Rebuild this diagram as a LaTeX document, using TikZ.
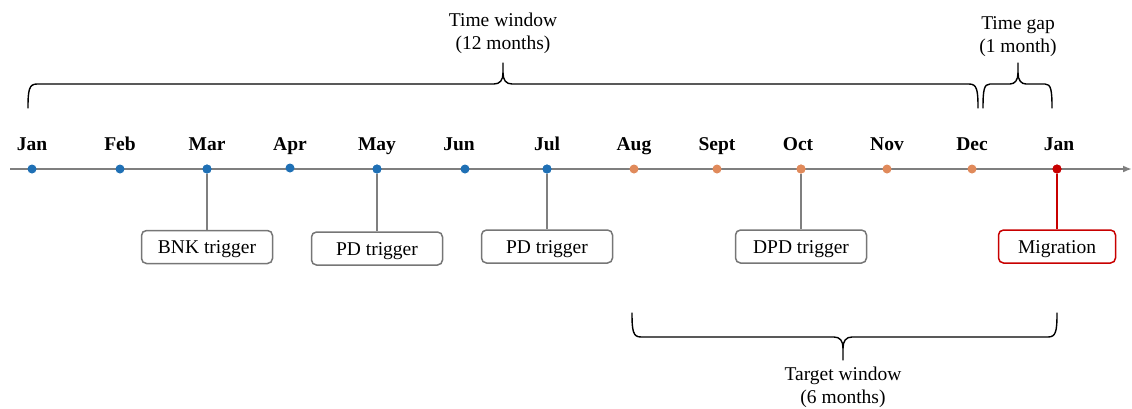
\documentclass[tikz,border=0pt]{standalone}
\usepackage{fontspec}
\setmainfont{Liberation Serif}
\usetikzlibrary{arrows.meta}

\definecolor{axisgrey}{HTML}{7F7F7F}
\definecolor{boxgrey}{HTML}{767676}
\definecolor{dotblue}{HTML}{1F70B5}
\definecolor{dotorange}{HTML}{E08A5B}
\definecolor{migred}{HTML}{C80000}

\begin{document}
\begin{tikzpicture}[x=1pt,y=-1pt,
  txt/.style={font=\rmfamily\fontsize{19.5}{23}\selectfont},
  month/.style={font=\rmfamily\fontsize{19.5}{23}\selectfont\bfseries, anchor=base},
  monthdot/.style={circle, inner sep=0pt, minimum size=9pt, fill=#1},
  evt/.style={draw=#1, line width=1.5pt, rounded corners=5pt, fill=white,
    minimum width=131pt, minimum height=33pt, inner sep=0pt,
    text height=13pt, text depth=0pt,
    font=\rmfamily\fontsize{19.5}{23}\selectfont},
  stem/.style={draw=#1, line width=1.8pt},
  bracepen/.style={draw=black, line width=1.4pt, line cap=round, line join=round},
  axis/.style={draw=axisgrey, line width=2.4pt, -{Latex[length=9pt,width=7pt]}}
]
\useasboundingbox (0,0) rectangle (1132,408);

% time axis
\coordinate (axstart) at (10,169);
\coordinate (axend) at (1132,169);
\draw[axis] (axstart) -- (axend);

% event boxes
\node[evt=boxgrey] (bnk) at (207,247) {BNK trigger};
\node[evt=boxgrey] (pda) at (377,248.5) {PD trigger};
\node[evt=boxgrey] (pdb) at (547,246.5) {PD trigger};
\node[evt=boxgrey] (dpd) at (801,246.5) {DPD trigger};
\node[evt=migred, minimum width=117pt] (mig) at (1057,246.5) {Migration};

% month markers
\node[monthdot=dotblue] (m1) at (32,169) {};
\node[monthdot=dotblue] (m2) at (120,169) {};
\node[monthdot=dotblue] (m3) at (207,169) {};
\node[monthdot=dotblue] (m4) at (290,168) {};
\node[monthdot=dotblue] (m5) at (377,169) {};
\node[monthdot=dotblue] (m6) at (465,169) {};
\node[monthdot=dotblue] (m7) at (547,169) {};
\node[monthdot=dotorange] (m8) at (634,169) {};
\node[monthdot=dotorange] (m9) at (717,169) {};
\node[monthdot=dotorange] (m10) at (801,169) {};
\node[monthdot=dotorange] (m11) at (887,169) {};
\node[monthdot=dotorange] (m12) at (972,169) {};
\node[monthdot=migred] (m13) at (1057,169) {};

% stems from months down to their events
\draw[stem=axisgrey] (m3) -- (bnk.north);
\draw[stem=axisgrey] (m5) -- (pda.north);
\draw[stem=axisgrey] (m7) -- (pdb.north);
\draw[stem=axisgrey] (m10) -- (dpd.north);
\draw[stem=migred] (m13) -- (mig.north);

% month labels
\node[month] (l1) at (32,150) {Jan};
\node[month] (l2) at (120,150) {Feb};
\node[month] (l3) at (207,150) {Mar};
\node[month] (l4) at (290,150) {Apr};
\node[month] (l5) at (377,150) {May};
\node[month] (l6) at (459,150) {Jun};
\node[month] (l7) at (547,150) {Jul};
\node[month] (l8) at (634,150) {Aug};
\node[month] (l9) at (717,150) {Sept};
\node[month] (l10) at (798,150) {Oct};
\node[month] (l11) at (887,150) {Nov};
\node[month] (l12) at (972,150) {Dec};
\node[month] (l13) at (1059,150) {Jan};

% redraw the dots above the stems
\foreach \m/\c in {m3/dotblue, m5/dotblue, m7/dotblue, m10/dotorange, m13/migred}
  \fill[\c] (\m) circle (4.5pt);

% brace: time window
\draw[bracepen] (28,108) .. controls (28,90) and (29,84) .. (37,84)
  -- (494,84) .. controls (500,84) and (503,80) .. (503,73) -- (503,63);
\draw[bracepen] (978,108) .. controls (978,90) and (977,84) .. (969,84)
  -- (512,84) .. controls (506,84) and (503,80) .. (503,73);
\node[txt, align=center] (tw) at (503,33) {Time window\\(12 months)};

% brace: time gap
\draw[bracepen] (983,108) .. controls (983,90) and (984,84) .. (990,84)
  -- (1010,84) .. controls (1015,84) and (1018,80) .. (1018,73) -- (1018,63);
\draw[bracepen] (1052,108) .. controls (1052,90) and (1051,84) .. (1045,84)
  -- (1026,84) .. controls (1021,84) and (1018,80) .. (1018,73);
\node[txt, align=center] (tg) at (1018,37) {Time gap\\(1 month)};

% brace: target window
\draw[bracepen] (632,313) .. controls (632,331) and (633,337) .. (641,337)
  -- (834,337) .. controls (840,337) and (843,341) .. (843,348) -- (843,360);
\draw[bracepen] (1057,313) .. controls (1057,331) and (1056,337) .. (1048,337)
  -- (852,337) .. controls (846,337) and (843,341) .. (843,348);
\node[txt, align=center] (tt) at (843,387) {Target window\\(6 months)};
\end{tikzpicture}
\end{document}
